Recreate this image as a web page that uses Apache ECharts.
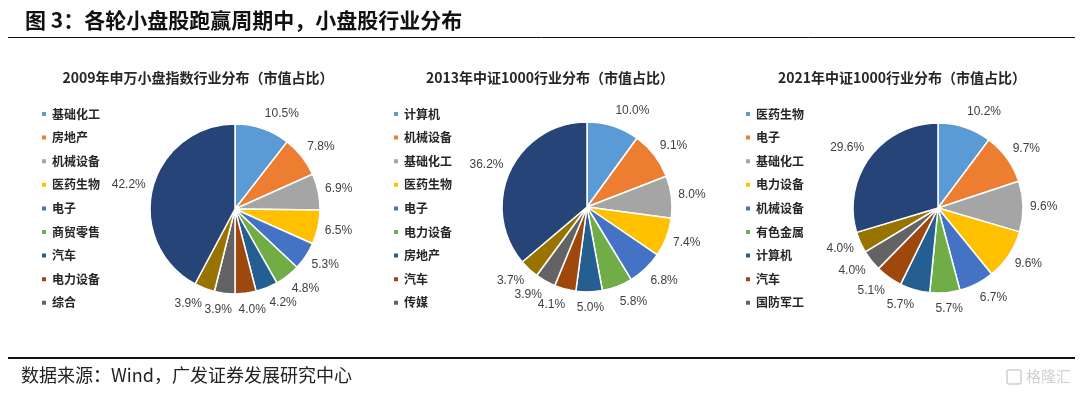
<!DOCTYPE html>
<html>
<head>
<meta charset="utf-8">
<script src="https://cdn.jsdelivr.net/npm/echarts@6/dist/echarts.min.js"></script>
<style>
html,body{margin:0;padding:0;background:#fff;}
#chart{width:1080px;height:395px;}
</style>
</head>
<body>
<div id="chart"></div>
<script>
// ---- data ----
const palette = ['#5B9BD5','#ED7D31','#A5A5A5','#FFC000','#4472C4','#70AD47','#255E91','#9E480E','#636363','#997300','#264478'];

const titles = ['2009年申万小盘指数行业分布（市值占比）','2013年中证1000行业分布（市值占比）','2021年中证1000行业分布（市值占比）'];

const names2009 = ['基础化工','房地产','机械设备','医药生物','电子','商贸零售','汽车','电力设备','综合','行业10','其他'];
const values2009 = [10.5,7.8,6.9,6.5,5.3,4.8,4.2,4.0,3.9,3.9,42.2];

const names2013 = ['计算机','机械设备','基础化工','医药生物','电子','电力设备','房地产','汽车','传媒','行业10','其他'];
const values2013 = [10.0,9.1,8.0,7.4,6.8,5.8,5.0,4.1,3.9,3.7,36.2];

const names2021 = ['医药生物','电子','基础化工','电力设备','机械设备','有色金属','计算机','汽车','国防军工','行业10','其他'];
const values2021 = [10.2,9.7,9.6,9.6,6.7,5.7,5.7,5.1,4.0,4.0,29.6];

const legendCount = 9;
const sourceText = '数据来源：Wind，广发证券发展研究中心';
const mainTitle = '图 3：各轮小盘股跑赢周期中，小盘股行业分布';

// ---- layout ----
const pies = [
  {names: names2009, values: values2009, center: [235, 209], legendLeft: 35, titleX: 193},
  {names: names2013, values: values2013, center: [587, 207], legendLeft: 387, titleX: 545},
  {names: names2021, values: values2021, center: [938, 208], legendLeft: 739, titleX: 897}
];
const R = 85;
const LX = 92, LY = 95; // label anchor distance (horizontal / vertical)

const chart = echarts.init(document.getElementById('chart'), null, {renderer: 'canvas'});

const series = pies.map((p, si) => {
  const total = p.values.reduce((a, b) => a + b, 0);
  const mids = [];
  let cum = 0;
  p.values.forEach(v => { mids.push((cum + v / 2) / total * Math.PI * 2); cum += v; });
  return {
    type: 'pie',
    center: p.center,
    radius: [0, R],
    startAngle: 90,
    clockwise: true,
    avoidLabelOverlap: false,
    silent: true,
    itemStyle: {borderColor: '#fff', borderWidth: 1.5},
    label: {
      show: true,
      position: 'outside',
      formatter: (q) => q.value.toFixed(1) + '%',
      color: '#404040',
      fontSize: 12,
      fontFamily: 'Liberation Sans, Arial, sans-serif'
    },
    labelLine: {show: false, length: 8, length2: 0},
    labelLayout: (params) => {
      const a = mids[params.dataIndex];
      const nx = Math.sin(a), ny = -Math.cos(a);
      const w = params.labelRect.width, h = params.labelRect.height;
      const px = p.center[0] + nx * LX;
      const py = p.center[1] + ny * LY;
      const fx = Math.max(-1, Math.min(1, nx / 0.3));
      return {
        x: px + fx * w / 2,
        y: py + ny * h / 2,
        align: 'center',
        verticalAlign: 'middle'
      };
    },
    data: p.names.map((n, i) => ({name: n, value: p.values[i], itemStyle: {color: palette[i]}}))
  };
});

const legends = pies.map((p) => ({
  orient: 'vertical',
  left: p.legendLeft,
  top: 102,
  itemWidth: 6,
  itemHeight: 6,
  itemGap: 9.6,
  icon: 'rect',
  selectedMode: false,
  textStyle: {fontSize: 12, lineHeight: 14, color: '#262626', fontWeight: 'bold', fontFamily: 'Noto Sans CJK SC'},
  data: p.names.slice(0, legendCount).map((n, i) => ({name: n, itemStyle: {color: palette[i]}}))
}));

const titleOpts = [
  {text: mainTitle, left: 20, top: 5, textStyle: {fontSize: 21, fontWeight: 'bold', color: '#111', fontFamily: 'Noto Sans CJK SC'}}
].concat(pies.map((p, i) => ({
  text: titles[i], left: p.titleX, top: 66, textAlign: 'center',
  textStyle: {fontSize: 14, fontWeight: 'bold', color: '#262626', fontFamily: 'Noto Sans CJK SC'}
})));

chart.setOption({
  backgroundColor: '#fff',
  animation: false,
  title: titleOpts,
  legend: legends,
  series: series,
  graphic: [
    {type: 'line', shape: {x1: 8, y1: 37.5, x2: 1075, y2: 37.5}, style: {stroke: '#111', lineWidth: 1}},
    {type: 'line', shape: {x1: 8, y1: 358, x2: 1075, y2: 358}, style: {stroke: '#111', lineWidth: 2}},
    {type: 'text', left: 21, top: 366, style: {text: sourceText, fontSize: 18, fill: '#222', fontFamily: 'Noto Sans CJK SC'}},
    {type: 'rect', shape: {x: 1007, y: 370, width: 14, height: 14, r: 2}, style: {fill: 'none', stroke: '#d0d0d0', lineWidth: 1.5}},
    {type: 'text', left: 1026, top: 369, style: {text: '格隆汇', fontSize: 15, fill: '#d0d0d0', fontFamily: 'Noto Sans CJK SC'}}
  ]
});
</script>
</body>
</html>
